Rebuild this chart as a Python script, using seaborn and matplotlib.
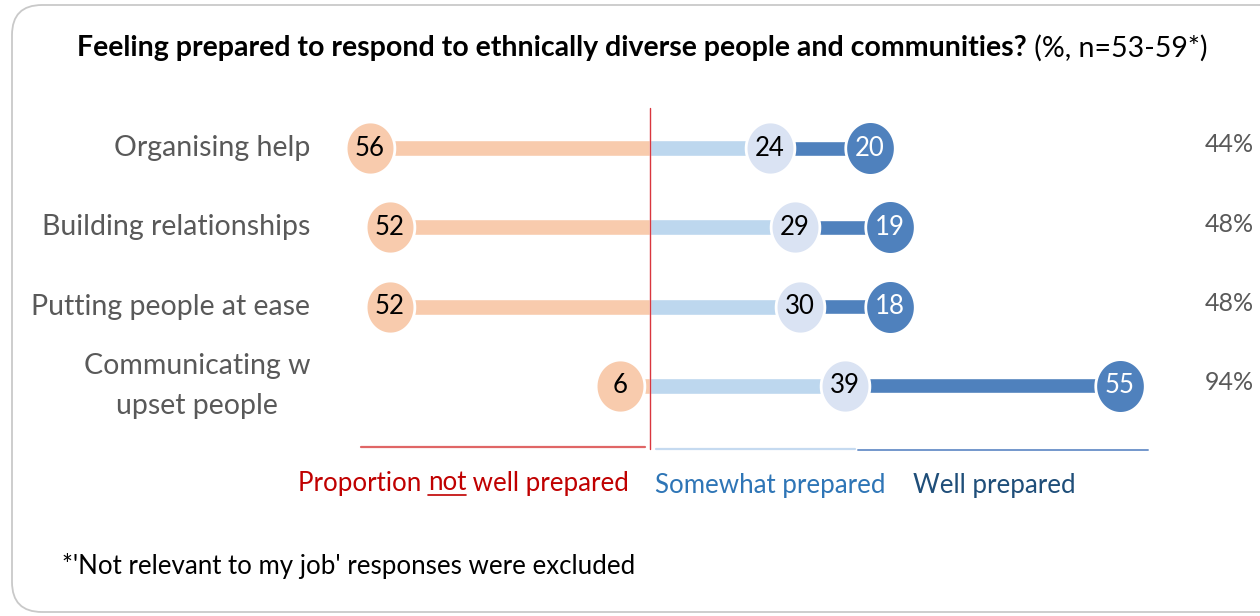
import numpy as np
import matplotlib
matplotlib.use("Agg")
import matplotlib.pyplot as plt
import seaborn as sns
from matplotlib.path import Path
from matplotlib.patches import FancyBboxPatch
from matplotlib.lines import Line2D

categories = ["Organising help", "Building relationships", "Putting people at ease",
              "Communicating w\nupset people"]
not_well = [56, 52, 52, 6]
somewhat = [24, 29, 30, 39]
well = [20, 19, 18, 55]
total_labels = ["44%", "48%", "48%", "94%"]

sns.set_theme(style="white")
plt.rcParams['font.family'] = ['Lato', 'DejaVu Sans']

W, H = 1260, 616
fig = plt.figure(figsize=(12.6, 6.16), dpi=100)
fig.patch.set_facecolor("white")

# rounded border
box = FancyBboxPatch((0.12, 0.04), 13.0, 6.07, boxstyle="round,pad=0,rounding_size=0.3",
                     transform=fig.dpi_scale_trans, facecolor="none", edgecolor="#C9C9C9",
                     linewidth=1.3, zorder=-5)
fig.add_artist(box)

ax = fig.add_axes([0, 0, 1, 1])
ax.patch.set_alpha(0)
S = 5.0  # px per unit
Y0, DY = 148, 79.3

rows = np.arange(len(categories))
nw = np.array(not_well)
sw = np.array(somewhat)
wl = np.array(well)
tot = sw + wl

ORANGE = "#F8CBAD"
LIGHT_BAR = "#BDD7EE"
LIGHT_DOT = "#DAE3F3"
DARK = "#4F81BD"

bh = 16 / DY
ax.barh(rows, -nw, height=bh, color=ORANGE, zorder=1)
ax.barh(rows, sw, height=bh, color=LIGHT_BAR, zorder=1)
ax.barh(rows, wl, left=sw, height=bh - 1 / DY, color=DARK, zorder=1)

th = np.linspace(0, 2 * np.pi, 80)
ell = Path(np.c_[0.46 * np.cos(th), 0.5 * np.sin(th)], closed=True)
s = (53 * 0.72) ** 2

sns.scatterplot(x=-nw, y=rows, marker=ell, s=s, color=ORANGE, edgecolor="white",
                linewidth=2.0, ax=ax, zorder=3, legend=False)
sns.scatterplot(x=sw, y=rows, marker=ell, s=s, color=LIGHT_DOT, edgecolor="white",
                linewidth=2.0, ax=ax, zorder=3, legend=False)
sns.scatterplot(x=tot, y=rows, marker=ell, s=s * 1.03, color=DARK, edgecolor="white",
                linewidth=2.0, ax=ax, zorder=3, legend=False)
ax.set_xlim(-650 / S, 610 / S)
ax.set_ylim((616 - Y0) / DY, (0 - Y0) / DY)
ax.axis("off")

for i in rows:
    ax.text(-nw[i], i, str(nw[i]), ha="center", va="center", fontsize=18.5, color="black", zorder=4)
    ax.text(sw[i], i, str(sw[i]), ha="center", va="center", fontsize=18.5, color="black", zorder=4)
    ax.text(tot[i], i, str(wl[i]), ha="center", va="center", fontsize=18.5, color="white", zorder=4)
    ax.text(310, H - (Y0 + DY * i), categories[i], transform=None, ha="right", va="center",
            multialignment="center", fontsize=20.5, color="#595959", linespacing=1.65)
    ax.text(1254, H - (Y0 + DY * i - 3), total_labels[i], transform=None, ha="right", va="center",
            fontsize=18, color="#595959")

# pixel-transform helper (y from top)
def px(x, y):
    return x / W, 1 - y / H

# centre line and baseline strokes
fig.add_artist(Line2D([650 / W, 650 / W], [1 - 108 / H, 1 - 449 / H], color="#D9363E", lw=1))
fig.add_artist(Line2D([361 / W, 645 / W], [1 - 447 / H] * 2, color="#E06666", lw=1.6))
fig.add_artist(Line2D([656 / W, 855 / W], [1 - 449 / H] * 2, color="#C5DAF0", lw=1.6))
fig.add_artist(Line2D([858 / W, 1148 / W], [1 - 450 / H] * 2, color="#7397CC", lw=1.4))

fig.canvas.draw()
r = fig.canvas.get_renderer()

# title
t1 = fig.text(*px(77, 48), "Feeling prepared to respond to ethnically diverse people and communities?",
              fontsize=20.5, fontweight="bold", color="black", va="center", ha="left")
bb = t1.get_window_extent(r)
fig.text(bb.x1 / W, 1 - 48 / H, " (%, n=53-59*)", fontsize=20.5, color="black",
         va="center", ha="left")

# legend-like labels
RED = "#C00000"
FS = 18.6
a = fig.text(*px(298, 483), "Proportion ", fontsize=FS, color=RED, va="center", ha="left")
b1 = a.get_window_extent(r)
b = fig.text(b1.x1 / W, 1 - 483 / H, "not", fontsize=FS, color=RED, va="center", ha="left")
b2 = b.get_window_extent(r)
c = fig.text(b2.x1 / W, 1 - 483 / H, " well prepared", fontsize=FS, color=RED, va="center", ha="left")
fig.add_artist(Line2D([b2.x0 / W, b2.x1 / W], [1 - 495 / H] * 2, color=RED, lw=1.2))

fig.text(*px(655, 485), "Somewhat prepared", fontsize=FS, color="#2E75B6", va="center", ha="left")
fig.text(*px(913, 485), "Well prepared", fontsize=FS, color="#1F4E79", va="center", ha="left")

fig.text(*px(62, 566), "*'Not relevant to my job' responses were excluded", fontsize=FS,
         color="black", va="center", ha="left")

fig.savefig("out.png", dpi=100, facecolor="white")
